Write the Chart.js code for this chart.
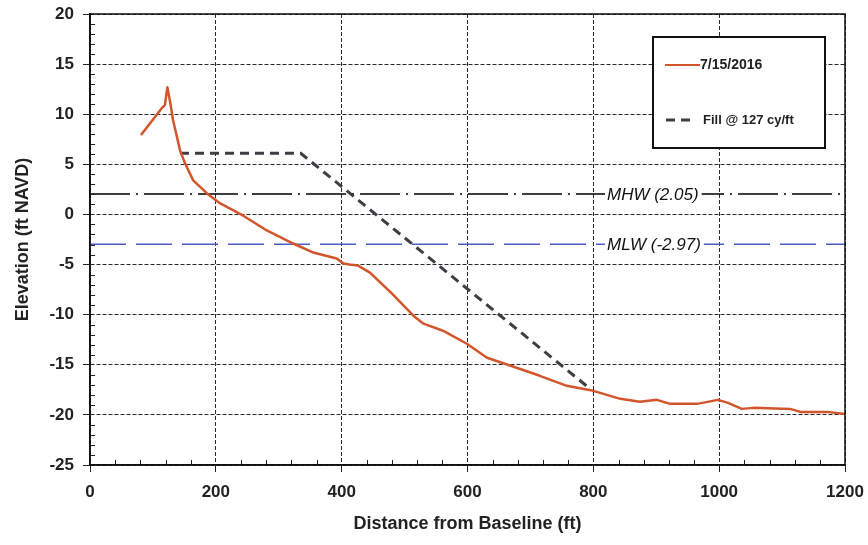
<!DOCTYPE html>
<html>
<head>
<meta charset="utf-8">
<script src="https://cdn.jsdelivr.net/npm/chart.js@4/dist/chart.umd.min.js"></script>
<style>
  html, body { margin: 0; padding: 0; background: #fff; }
  #wrap { width: 868px; height: 545px; }
</style>
</head>
<body>
<div id="wrap"><canvas id="profile-chart"></canvas></div>
<script>
// survey profile 7/15/2016
const profileX = [82, 114, 119, 123, 128, 132, 138, 143, 151, 164, 186, 207, 243, 281, 323, 355, 392, 403, 412, 426, 445, 480, 514, 530, 561, 599, 631, 678, 715, 758, 800, 843, 874, 901, 922, 965, 998, 1014, 1036, 1054, 1113, 1129, 1172, 1200];
const profileY = [8.0, 10.6, 10.9, 12.7, 11.0, 9.4, 7.8, 6.4, 5.1, 3.4, 2.1, 1.1, -0.1, -1.6, -2.9, -3.8, -4.4, -4.9, -5.0, -5.1, -5.8, -7.9, -10.1, -10.9, -11.6, -12.9, -14.3, -15.3, -16.1, -17.1, -17.6, -18.4, -18.7, -18.5, -18.9, -18.9, -18.5, -18.8, -19.4, -19.3, -19.4, -19.7, -19.7, -19.9];

// design fill template
const fillX = [143, 335, 795];
const fillY = [6.1, 6.1, -17.4];

// tidal datums
const tideNames = ['MHW', 'MLW'];
const tideLevels = [2.05, -2.97];
const tideExtent = [0, 1200];

const xTicks = [0, 200, 400, 600, 800, 1000, 1200];
const yTicks = [-25, -20, -15, -10, -5, 0, 5, 10, 15, 20];

const legendLabels = ['7/15/2016', 'Fill @ 127 cy/ft'];

const toPoints = (xs, ys) => xs.map((x, i) => ({ x: x, y: ys[i] }));

const profileColor = '#d2552b';
const fillColor = '#3c3e44';
const mlwColor = '#4c5cc6';

// frame, minor ticks, datum labels and legend box
const decorPlugin = {
    id: 'decor',
    afterDatasetsDraw(chart) {
        const { ctx, chartArea: a, scales: { x, y } } = chart;
        ctx.save();

        // minor ticks
        ctx.strokeStyle = '#222';
        ctx.lineWidth = 1;
        ctx.beginPath();
        for (let v = -25; v <= 20; v += 1) {
            if (v % 5 === 0) continue;
            const py = Math.round(y.getPixelForValue(v)) + 0.5;
            ctx.moveTo(a.left, py);
            ctx.lineTo(a.left + 5, py);
        }
        for (let v = 0; v <= 1200; v += 40) {
            if (v % 200 === 0) continue;
            const px = Math.round(x.getPixelForValue(v)) + 0.5;
            ctx.moveTo(px, a.bottom);
            ctx.lineTo(px, a.bottom - 5);
        }
        ctx.stroke();

        // frame
        ctx.strokeStyle = '#111';
        ctx.lineWidth = 1.5;
        ctx.strokeRect(a.left, a.top, a.right - a.left, a.bottom - a.top);

        // datum labels
        ctx.font = 'italic 17px "Liberation Sans", Arial, sans-serif';
        ctx.textBaseline = 'middle';
        ctx.textAlign = 'left';
        tideNames.forEach((name, i) => {
            const text = name + ' (' + tideLevels[i].toFixed(2) + ')';
            const w = ctx.measureText(text).width;
            const px = 607;
            const py = y.getPixelForValue(tideLevels[i]);
            ctx.fillStyle = '#fff';
            ctx.fillRect(px - 2, py - 10, w + 5, 20);
            ctx.fillStyle = '#111';
            ctx.fillText(text, px, py + 1);
        });

        // legend box
        const bx = 653, by = 37, bw = 172, bh = 111;
        ctx.fillStyle = '#fff';
        ctx.fillRect(bx, by, bw, bh);
        ctx.strokeStyle = '#111';
        ctx.lineWidth = 2;
        ctx.strokeRect(bx, by, bw, bh);

        ctx.lineWidth = 2;
        ctx.strokeStyle = profileColor;
        ctx.beginPath();
        ctx.moveTo(665, 65);
        ctx.lineTo(700, 65);
        ctx.stroke();

        ctx.lineWidth = 3;
        ctx.strokeStyle = fillColor;
        ctx.setLineDash([9, 6]);
        ctx.beginPath();
        ctx.moveTo(666, 120);
        ctx.lineTo(696, 120);
        ctx.stroke();
        ctx.setLineDash([]);

        ctx.fillStyle = '#222';
        ctx.font = 'bold 14px "Liberation Sans", Arial, sans-serif';
        ctx.fillText(legendLabels[0], 700, 65);
        ctx.font = 'bold 13px "Liberation Sans", Arial, sans-serif';
        ctx.fillText(legendLabels[1], 703, 120);

        ctx.restore();
    }
};

const tickFont = { family: '"Liberation Sans", Arial, sans-serif', size: 17, weight: 'bold' };
const titleFont = { family: '"Liberation Sans", Arial, sans-serif', size: 18, weight: 'bold' };

new Chart(document.getElementById('profile-chart'), {
    type: 'line',
    data: {
        datasets: [
            {
                label: legendLabels[0],
                data: toPoints(profileX, profileY),
                borderColor: profileColor,
                borderWidth: 2.5,
                borderJoinStyle: 'round',
                borderCapStyle: 'round',
                pointRadius: 0,
                tension: 0
            },
            {
                label: legendLabels[1],
                data: toPoints(fillX, fillY),
                borderColor: fillColor,
                borderWidth: 3,
                borderDash: [9, 6],
                pointRadius: 0,
                tension: 0
            },
            {
                label: tideNames[0],
                data: toPoints(tideExtent, [tideLevels[0], tideLevels[0]]),
                borderColor: '#000',
                borderWidth: 1.5,
                borderDash: [40, 6, 2, 6],
                pointRadius: 0
            },
            {
                label: tideNames[1],
                data: toPoints(tideExtent, [tideLevels[1], tideLevels[1]]),
                borderColor: mlwColor,
                borderWidth: 1.4,
                borderDash: [36, 10],
                pointRadius: 0
            }
        ]
    },
    options: {
        responsive: true,
        maintainAspectRatio: false,
        animation: false,
        layout: { padding: { top: 14, right: 23, left: 0, bottom: 0 } },
        plugins: {
            legend: { display: false },
            tooltip: { enabled: false }
        },
        scales: {
            x: {
                type: 'linear',
                min: 0,
                max: 1200,
                afterBuildTicks: (s) => { s.ticks = xTicks.map(v => ({ value: v })); },
                afterFit: (s) => { s.height = 80; s.paddingLeft = 0; s.paddingRight = 0; },
                ticks: { font: tickFont, color: '#222', padding: 10, callback: (v) => String(v) },
                grid: { color: '#2a2a2a', lineWidth: 1, tickLength: 7, tickColor: '#222', tickBorderDash: [] },
                border: { display: true, color: '#111', width: 1.5, dash: [4, 2] },
                title: { display: true, text: 'Distance from Baseline (ft)', font: titleFont, color: '#222', padding: { bottom: 10 } }
            },
            y: {
                type: 'linear',
                min: -25,
                max: 20,
                afterBuildTicks: (s) => { s.ticks = yTicks.map(v => ({ value: v })); },
                afterFit: (s) => { s.width = 90; s.paddingTop = 0; s.paddingBottom = 0; },
                ticks: { font: tickFont, color: '#222', padding: 9, callback: (v) => String(v) },
                grid: { color: '#2a2a2a', lineWidth: 1, tickLength: 7, tickColor: '#222', tickBorderDash: [] },
                border: { display: true, color: '#111', width: 1.5, dash: [4, 2] },
                title: { display: true, text: 'Elevation (ft NAVD)', font: titleFont, color: '#222', padding: { top: 12 } }
            }
        }
    },
    plugins: [decorPlugin]
});
</script>
</body>
</html>
